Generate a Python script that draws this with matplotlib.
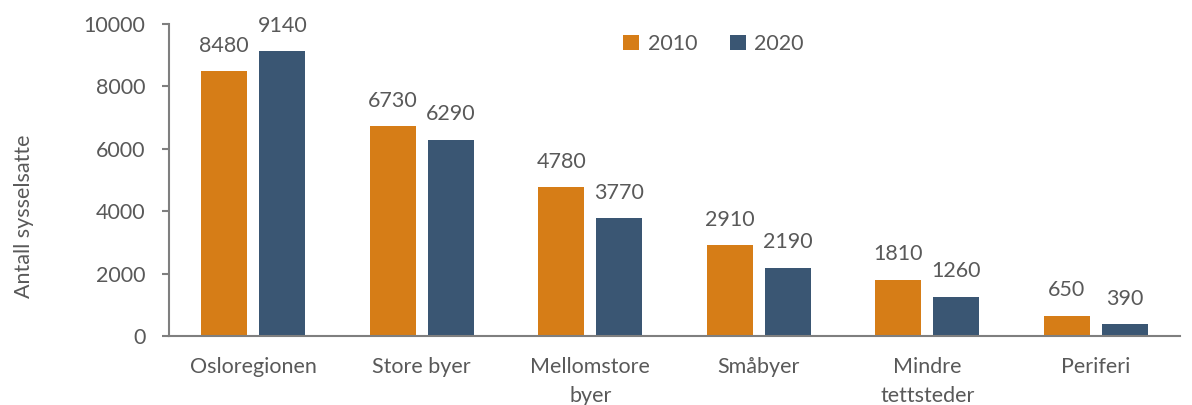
import matplotlib
matplotlib.use("Agg")
import matplotlib.pyplot as plt
import numpy as np

categories = ["Osloregionen", "Store byer", "Mellomstore\nbyer", "Småbyer", "Mindre\ntettsteder", "Periferi"]
values_2010 = [8480, 6730, 4780, 2910, 1810, 650]
values_2020 = [9140, 6290, 3770, 2190, 1260, 390]
series_names = ["2010", "2020"]
yticks = [0, 2000, 4000, 6000, 8000, 10000]

plt.rcParams['font.family'] = ['Lato', 'DejaVu Sans']
txt = "#595959"
c1 = "#D67D17"
c2 = "#3A5673"
fs = 15.5

fig = plt.figure(figsize=(11.92, 4.05), dpi=100)
ax = fig.add_axes([0.1418, 0.1704, 0.8482, 0.7703])

x = np.arange(len(categories))
w = 0.273
off = 0.172
b1 = ax.bar(x - off, values_2010, w, color=c1, label=series_names[0])
b2 = ax.bar(x + off, values_2020, w, color=c2, label=series_names[1])

for bars, vals in ((b1, values_2010), (b2, values_2020)):
    for r, v in zip(bars, vals):
        ax.annotate(f"{v}", (r.get_x() + r.get_width() / 2, v), xytext=(0, 11),
                    textcoords="offset points", ha="center", va="bottom",
                    fontsize=fs, color=txt)

ax.set_xlim(-0.5, len(categories) - 0.5)
ax.set_ylim(0, 10000)
ax.set_yticks(yticks)
ax.set_yticklabels([str(t) for t in yticks])
ax.set_xticks(x)
ax.set_xticklabels(categories, fontsize=fs, color=txt, linespacing=1.6)
ax.tick_params(axis='x', length=0, pad=15)
ax.tick_params(axis='y', length=5, width=1.5, color="#7F7F7F", labelsize=fs, labelcolor=txt, pad=12)
for s in ("top", "right"):
    ax.spines[s].set_visible(False)
for s in ("left", "bottom"):
    ax.spines[s].set_color("#7F7F7F")
    ax.spines[s].set_linewidth(1.5)

fig.text(0.02, 0.467, "Antall sysselsatte", rotation=90, ha="center", va="center",
         fontsize=fs, color=txt)

leg = ax.legend(loc="upper left", bbox_to_anchor=(0.43, 1.03), ncol=2, frameon=False,
                fontsize=fs, handlelength=0.75, handleheight=0.75, columnspacing=1.5,
                handletextpad=0.4, labelcolor=txt)

fig.savefig("out.png", dpi=100)
